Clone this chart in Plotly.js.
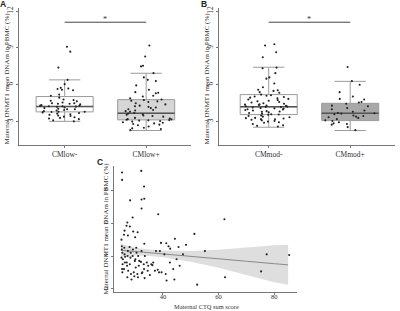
<!DOCTYPE html>
<html><head><meta charset="utf-8">
<script src="https://cdn.plot.ly/plotly-3.0.1.min.js"></script>
<style>html,body{margin:0;padding:0;background:#fff}#chart{width:400px;height:311px}</style>
</head><body><div id="chart"></div>
<script>
// ---------- Panel A ----------
const catsA = ['CMlow-', 'CMlow+'];
const q1A = [3.79, 3.14];
const medA = [4.22, 3.68];
const q3A = [5.04, 4.79];
const lowA = [3.02, 2.27];
const upA = [6.40, 6.94];
const ptsA1 = [9.1, 8.7, 7.4, 6.4, 6.05, 5.75, 5.7, 5.65, 5.6, 5.55, 5.2, 5.1, 4.95, 4.8, 4.75, 4.7, 4.65, 4.55, 4.5, 4.5, 4.45, 4.45, 4.4, 4.35, 4.3, 4.3, 4.25, 4.25, 4.22, 4.2, 4.15, 4.1, 4.05, 4.0, 4.0, 3.95, 3.9, 3.85, 3.8, 3.8, 3.78, 3.75, 3.7, 3.65, 3.6, 3.55, 3.5, 3.45, 3.4, 3.35, 3.3, 3.25, 3.2, 3.1, 3.02];
const ptsA2 = [9.2, 8.3, 7.55, 7.5, 6.95, 6.6, 6.4, 6.3, 5.95, 5.6, 5.4, 5.35, 5.3, 5.1, 5.05, 4.9, 4.8, 4.75, 4.7, 4.65, 4.6, 4.5, 4.4, 4.3, 4.25, 4.2, 4.15, 4.1, 4.0, 3.95, 3.9, 3.85, 3.8, 3.7, 3.65, 3.6, 3.55, 3.5, 3.45, 3.4, 3.3, 3.25, 3.2, 3.18, 3.15, 3.12, 3.1, 3.08, 3.05, 3.0, 2.95, 2.9, 2.85, 2.8, 2.75, 2.7, 2.6, 2.5, 2.45, 2.4, 2.3];
// ---------- Panel B ----------
const catsB = ['CMmod-', 'CMmod+'];
const q1B = [3.57, 3.08];
const medB = [4.20, 3.68];
const q3B = [5.20, 4.49];
const lowB = [2.54, 2.27];
const upB = [7.43, 6.28];
const ptsB1 = [9.3, 9.2, 8.65, 8.25, 7.4, 7.35, 6.95, 6.6, 6.5, 6.1, 5.8, 5.6, 5.55, 5.5, 5.4, 5.35, 5.2, 5.15, 5.1, 5.05, 5.0, 4.95, 4.9, 4.85, 4.8, 4.75, 4.7, 4.65, 4.6, 4.55, 4.5, 4.45, 4.4, 4.38, 4.35, 4.3, 4.28, 4.25, 4.22, 4.2, 4.18, 4.15, 4.1, 4.08, 4.05, 4.0, 3.98, 3.95, 3.9, 3.85, 3.82, 3.8, 3.75, 3.7, 3.65, 3.6, 3.58, 3.55, 3.5, 3.45, 3.4, 3.35, 3.3, 3.28, 3.25, 3.2, 3.18, 3.15, 3.1, 3.05, 3.0, 2.95, 2.9, 2.8, 2.7, 2.65, 2.6];
const ptsB2 = [7.45, 6.3, 6.0, 5.4, 5.05, 4.85, 4.8, 4.6, 4.55, 4.45, 4.3, 4.25, 4.1, 4.0, 3.9, 3.8, 3.7, 3.68, 3.65, 3.6, 3.5, 3.45, 3.4, 3.35, 3.3, 3.2, 3.1, 3.05, 2.95, 2.85, 2.8, 2.75, 2.55, 2.3];
const sigY = 11.1;
const sigLabel = '*';
// ---------- Panel C ----------
const ctqX = [25.3,25.3,32.2,33.2,28.2,32.3,33.3,32.3,38.3,29.1,27.2,26.9,28.1,26.2,29.3,30.9,26.0,27.4,30.0,25.1,33.3,44.3,39.3,41.2,42.0,42.6,48.3,55.1,51.3,62.1,62.3,52.3,77.3,85.4,75.3,
  25.2,25.4,25.1,25.5,25.3,25.2,25.6,25.4,
  26.1,26.3,26.0,26.4,26.2,
  27.0,27.3,27.5,27.1,27.4,27.2,
  28.0,28.5,28.3,28.7,28.1,28.4,
  29.2,29.7,29.5,29.9,29.1,
  30.2,30.5,30.1,30.8,30.4,
  31.1,31.3,31.5,31.0,
  32.1,32.3,32.6,32.4,
  33.2,33.5,33.1,33.4,
  34.7,34.2,34.5,
  35.3,35.8,
  36.2,36.5,
  37.1,37.5,
  38.1,38.6,
  38.9,39.5,
  40.5,41.0,41.3,
  42.5,43.7,44.1,44.9,45.6,46.0,47.2];
const dnamY = [9.1,8.65,9.2,8.25,7.4,7.45,7.5,6.9,6.55,6.35,6.05,5.85,5.8,5.55,5.5,5.45,5.3,5.25,5.15,5.0,4.75,5.05,4.8,4.78,4.6,4.45,4.68,4.3,5.35,6.25,2.7,2.25,4.1,4.06,3.06,
  4.6,4.2,3.9,3.5,3.2,4.4,3.8,3.0,
  4.5,3.6,3.2,3.95,4.1,
  3.6,4.0,3.1,3.4,4.3,2.7,
  4.55,2.9,3.9,2.56,3.5,4.2,
  4.4,2.76,3.0,3.7,4.0,
  3.3,4.2,3.8,2.9,4.5,
  4.0,3.4,3.7,2.7,
  3.64,4.3,3.0,2.95,
  3.2,4.0,3.5,2.65,
  3.4,3.6,3.1,
  2.84,3.5,
  3.44,3.6,
  3.1,4.3,
  3.16,3.0,
  4.3,3.0,
  4.1,2.9,2.5,
  3.6,3.2,2.56,3.8,4.55,3.4,4.1];
const fitX = [25, 30, 35, 40, 50, 60, 70, 80, 85];
const fitY = [4.35, 4.28, 4.20, 4.13, 3.98, 3.83, 3.68, 3.53, 3.46];
const fitLo = [3.97, 4.05, 4.00, 3.93, 3.65, 3.28, 2.84, 2.40, 2.24];
const fitHi = [4.73, 4.51, 4.40, 4.33, 4.31, 4.38, 4.52, 4.66, 4.68];

const yTitle = 'Maternal DNMT1 mean DNAm in PBMC (%)';
const xTitleC = 'Maternal CTQ sum score';

const boxLine = '#9b9b9b', medLine = '#555555';
const fills = {A: ['#ffffff', '#d6d6d6'], B: ['#ffffff', '#a8a8a8']};
const traces = [];

function panel(cats, q1, med, q3, lo, up, pts1, pts2, fillPair, xa, ya) {
  for (let i = 0; i < 2; i++) {
    traces.push({type: 'box', x: [cats[i]], q1: [q1[i]], median: [med[i]], q3: [q3[i]],
      lowerfence: [lo[i]], upperfence: [up[i]], boxpoints: false, width: 0.7, whiskerwidth: 0.55,
      fillcolor: fillPair[i], line: {color: boxLine, width: 1}, xaxis: xa, yaxis: ya,
      showlegend: false, hoverinfo: 'skip'});
  }
  traces.push({type: 'box', x: cats, q1: med, median: med, q3: med, lowerfence: med, upperfence: med,
    boxpoints: false, width: 0.7, whiskerwidth: 0, fillcolor: 'rgba(0,0,0,0)',
    line: {color: medLine, width: 1.5}, xaxis: xa, yaxis: ya, showlegend: false, hoverinfo: 'skip'});
  const px = pts1.map(() => cats[0]).concat(pts2.map(() => cats[1]));
  traces.push({type: 'box', x: px, y: pts1.concat(pts2), boxpoints: 'all', jitter: 0.95, pointpos: 0,
    width: 0.7, fillcolor: 'rgba(0,0,0,0)', line: {color: 'rgba(0,0,0,0)', width: 0},
    marker: {color: '#222', size: 2.1}, xaxis: xa, yaxis: ya, showlegend: false, hoverinfo: 'skip'});
  traces.push({type: 'scatter', mode: 'lines', x: cats, y: [sigY, sigY], line: {color: '#444', width: 1},
    xaxis: xa, yaxis: ya, showlegend: false, hoverinfo: 'skip'});
}
panel(catsA, q1A, medA, q3A, lowA, upA, ptsA1, ptsA2, fills.A, 'x', 'y');
panel(catsB, q1B, medB, q3B, lowB, upB, ptsB1, ptsB2, fills.B, 'x2', 'y2');

traces.push({type: 'scatter', mode: 'lines', x: fitX, y: fitLo, line: {width: 0, color: 'rgba(0,0,0,0)'},
  xaxis: 'x3', yaxis: 'y3', showlegend: false, hoverinfo: 'skip'});
traces.push({type: 'scatter', mode: 'lines', x: fitX, y: fitHi, fill: 'tonexty', fillcolor: 'rgba(160,160,160,0.35)',
  line: {width: 0, color: 'rgba(0,0,0,0)'}, xaxis: 'x3', yaxis: 'y3', showlegend: false, hoverinfo: 'skip'});
traces.push({type: 'scatter', mode: 'lines', x: fitX, y: fitY, line: {color: '#8a8a8a', width: 1},
  xaxis: 'x3', yaxis: 'y3', showlegend: false, hoverinfo: 'skip'});
traces.push({type: 'scatter', mode: 'markers', x: ctqX, y: dnamY, marker: {color: '#222', size: 2.1},
  xaxis: 'x3', yaxis: 'y3', showlegend: false, hoverinfo: 'skip'});

const W = 400, H = 311;
const SERIF = 'Liberation Serif, Times New Roman, serif';
function ax(extra) {
  return Object.assign({showgrid: false, zeroline: false, showline: true, linecolor: '#555', linewidth: 0.8,
    ticks: 'outside', ticklen: 2, tickwidth: 0.8, tickcolor: '#555',
    tickfont: {family: SERIF, size: 7.5, color: '#333333'}, fixedrange: true}, extra);
}
function yab(dom, anchor) {
  return ax({range: [1.05, 12.3], tickvals: [3, 6, 9, 12], tickangle: -90, domain: dom, anchor: anchor});
}
function note(text, x, y, opts) {
  return Object.assign({text: text, x: x / W, y: 1 - y / H, xref: 'paper', yref: 'paper', showarrow: false,
    xanchor: 'center', yanchor: 'middle', font: {family: SERIF, size: 7, color: '#333333'}}, opts || {});
}
const bold = {family: 'Liberation Sans, Arial, sans-serif', size: 8.5, color: '#222222'};
const layout = {
  width: W, height: H, margin: {l: 0, r: 0, t: 0, b: 0}, paper_bgcolor: '#fff', plot_bgcolor: '#fff',
  boxmode: 'overlay', showlegend: false,
  xaxis: ax({type: 'category', categoryarray: catsA, range: [-0.56, 1.55], domain: [19 / W, 191 / W], anchor: 'y'}),
  yaxis: yab([1 - 145.5 / H, 1 - 7.5 / H], 'x'),
  xaxis2: ax({type: 'category', categoryarray: catsB, range: [-0.61, 1.55], domain: [219 / W, 395 / W], anchor: 'y2'}),
  yaxis2: yab([1 - 145.5 / H, 1 - 7.5 / H], 'x2'),
  xaxis3: ax({range: [22.4, 88.2], tickvals: [40, 60, 80], domain: [114 / W, 297 / W], anchor: 'y3',
    ticklabelstandoff: -4, tickfont: {family: SERIF, size: 6.6, color: '#333333'}}),
  yaxis3: ax({range: [1.8, 9.5], tickvals: [2, 4, 6, 8], tickangle: -90, domain: [1 - 292 / H, 1 - 166 / H], anchor: 'x3',
    tickfont: {family: SERIF, size: 7, color: '#333333'}}),
  annotations: [
    note('<b>A</b>', 3, 4, {font: bold}),
    note('<b>B</b>', 204, 4, {font: bold}),
    note('<b>C</b>', 100, 162, {font: bold}),
    note(yTitle, 6.5, 79, {textangle: -90}),
    note(yTitle, 206.5, 79, {textangle: -90}),
    note(yTitle, 105.5, 229, {textangle: -90}),
    note(xTitleC, 206, 306.6, {font: {family: SERIF, size: 6.4, color: '#333333'}, borderpad: 0}),
    {text: sigLabel, x: 0.5, y: sigY + 0.25, xref: 'x', yref: 'y', showarrow: false, yanchor: 'middle',
      font: {family: SERIF, size: 8, color: '#333333'}},
    {text: sigLabel, x: 0.5, y: sigY + 0.25, xref: 'x2', yref: 'y2', showarrow: false, yanchor: 'middle',
      font: {family: SERIF, size: 8, color: '#333333'}}
  ]
};
Plotly.newPlot('chart', traces, layout, {staticPlot: true, displayModeBar: false});
</script></body></html>
